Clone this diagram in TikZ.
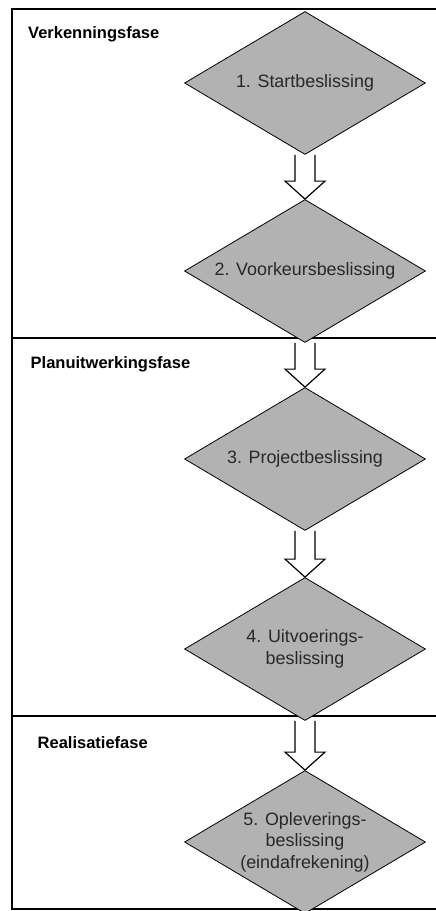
\documentclass[tikz,border=0pt]{standalone}
\usepackage{fontspec}
\setmainfont{Liberation Sans}
\usetikzlibrary{shapes.geometric,calc}

\definecolor{beslisgrijs}{RGB}{178,178,178}
\definecolor{tekstgrijs}{RGB}{40,40,40}

\tikzset{
  beslissing/.style={diamond, aspect=1.68, draw, line width=0.8pt, fill=beslisgrijs,
    text=tekstgrijs, minimum width=241pt, minimum height=143pt,
    inner sep=0pt, align=center, font=\fontsize{17.9}{21.5}\selectfont},
  fase/.style={anchor=base west, inner sep=0pt,
    font=\fontsize{16.5}{20}\selectfont\bfseries},
  blokpijl/.style={draw, line width=1.2pt, fill=white, line join=miter},
  kader/.style={line width=1.2pt}
}

\newcommand{\blokpijl}[2]{%
  \draw[blokpijl] ($(#1.south)+(-10,0)$) -- ($(#2.north)+(-10,-18)$)
    -- ($(#2.north)+(-20,-18)$) -- (#2.north) -- ($(#2.north)+(20,-18)$)
    -- ($(#2.north)+(10,-18)$) -- ($(#1.south)+(10,0)$);}

\begin{document}
\begin{tikzpicture}[x=1pt,y=-1pt]
      \clip (0,0) rectangle (436,911);

      \draw[kader] (436,9) -- (12,9) -- (12,909) -- (436,909);
      \draw[kader] (12,338) -- (436,338);
      \draw[kader] (12,716) -- (436,716);

      \node[fase] (verkenning) at (28,38) {Verkenningsfase};
      \node[fase] (planuitwerking) at (30.5,368) {Planuitwerkingsfase};
      \node[fase] (realisatie) at (37.5,748) {Realisatiefase};

      \node[beslissing] (b1) at (305,83) {1. Startbeslissing};
      \node[beslissing] (b2) at (305,271) {2. Voorkeursbeslissing};
      \node[beslissing] (b3) at (305,459) {3. Projectbeslissing};
      \node[beslissing] (b4) at (305,649) {4. Uitvoerings-\\beslissing};
      \node[beslissing] (b5) at (305,842) {5. Opleverings-\\beslissing\\(eindafrekening)};

      \blokpijl{b1}{b2}
      \blokpijl{b2}{b3}
      \blokpijl{b3}{b4}
      \blokpijl{b4}{b5}
    \end{tikzpicture}
\end{document}
